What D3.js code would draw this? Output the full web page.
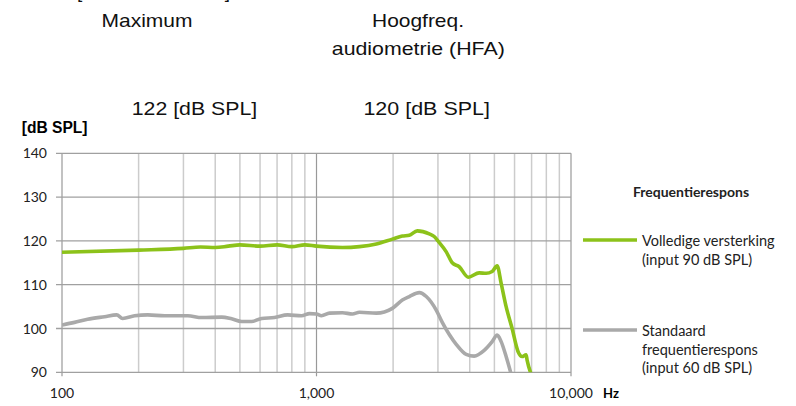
<!DOCTYPE html>
<html>
<head>
<meta charset="utf-8">
<script src="https://cdn.jsdelivr.net/npm/d3@7"></script>
<style>
  body { margin: 0; background: #fff; }
  svg { display: block; }
</style>
</head>
<body>
<div id="chart"></div>
<script>

// frequency response, full gain (input 90 dB SPL)
var fullFreq = [100, 200, 300, 350, 400, 450, 500, 600, 700, 800, 900, 1000, 1265, 1475, 1719, 1986, 2174, 2316, 2489, 2774, 2900, 3000, 3235, 3415, 3637, 3950, 4358, 4642, 4900, 5127, 5316, 5560, 5870, 6197, 6424, 6661, 6722, 6967];
var fullDb   = [117.4, 117.9, 118.3, 118.6, 118.5, 118.8, 119.1, 118.8, 119.1, 118.7, 119.1, 118.8, 118.5, 118.7, 119.3, 120.4, 121.1, 121.3, 122.3, 121.6, 121.0, 120.0, 117.5, 115.0, 114.1, 111.7, 112.7, 112.6, 113.0, 114.3, 110.3, 105.0, 100.0, 94.7, 93.6, 94.0, 92.8, 89.6];

// standard frequency response (input 60 dB SPL)
var stdFreq = [100, 112, 126, 147, 164, 173, 193, 217, 253, 312, 354, 424, 464, 508, 556, 609, 684, 770, 873, 939, 1000, 1046, 1125, 1265, 1384, 1475, 1719, 1986, 2174, 2316, 2535, 2700, 2954, 3120, 3540, 3874, 4165, 4559, 4900, 5127, 5316, 5560, 5817];
var stdDb   = [100.8, 101.4, 102.1, 102.7, 103.1, 102.3, 102.9, 103.1, 102.9, 102.9, 102.5, 102.6, 102.2, 101.6, 101.6, 102.3, 102.5, 103.1, 102.9, 103.4, 103.3, 102.9, 103.5, 103.6, 103.3, 103.7, 103.5, 104.6, 106.5, 107.3, 108.2, 107.3, 104.2, 101.4, 96.4, 94.1, 93.7, 95.0, 97.0, 98.5, 97.0, 93.6, 89.6];

var yTicks = [90, 100, 110, 120, 130, 140];
var xTicks = [100, 1000, 10000];
var minorTicks = [200, 300, 400, 500, 600, 700, 800, 900, 2000, 3000, 4000, 5000, 6000, 7000, 8000, 9000];

var legendItems = [
    { name: ["Volledige versterking", "(input 90 dB SPL)"], color: "#8cc21a" },
    { name: ["Standaard", "frequentierespons", "(input 60 dB SPL)"], color: "#a9a9a9" }
];

// header texts above the chart (text, centre x, baseline, width in the picture)
var headTexts = [
    ["Maximum", 147, 27.3, 91],
    ["Hoogfreq.", 418, 27.3, 92],
    ["audiometrie (HFA)", 418.3, 54.5, 173],
    ["122 [dB SPL]", 194.5, 115, 125.5],
    ["120 [dB SPL]", 426.7, 115, 126.5]
];

var w = 796, h = 406;
// note: "top" is taken by window.top, so plot edges get own names
var plotLeft = 62, plotRight = 571, plotTop = 153.3, plotBottom = 372.3;

var svg = d3.select("#chart").append("svg")
    .attr("width", w)
    .attr("height", h);

var x = d3.scaleLog().domain([100, 10000]).range([plotLeft, plotRight]);
var y = d3.scaleLinear().domain([90, 140]).range([plotBottom, plotTop]);

// header texts (the source font is a stretched Arial)
var head = svg.append("g")
    .attr("font-family", "'Liberation Sans', Arial, sans-serif")
    .attr("font-size", "19px")
    .attr("fill", "#111");
head.append("text").attr("x", 77).attr("y", -2).text("[");
head.append("text").attr("x", 230).attr("y", -2).attr("text-anchor", "end").text("]");
head.selectAll(".head")
    .data(headTexts)
    .enter()
    .append("text")
    .attr("x", function(d) { return d[1] - d[3] / 2; })
    .attr("y", function(d) { return d[2]; })
    .attr("textLength", function(d) { return d[3]; })
    .attr("lengthAdjust", "spacingAndGlyphs")
    .text(function(d) { return d[0]; });

svg.append("text")
    .attr("x", 21.7).attr("y", 133)
    .attr("font-family", "'Liberation Sans', Arial, sans-serif")
    .attr("font-size", "15.6px")
    .attr("font-weight", "bold")
    .text("[dB SPL]");

// vertical gridlines
svg.selectAll(".minor")
    .data(minorTicks)
    .enter()
    .append("line")
    .attr("x1", function(d) { return x(d); })
    .attr("x2", function(d) { return x(d); })
    .attr("y1", plotTop)
    .attr("y2", plotBottom)
    .attr("stroke", "#cccccc")
    .attr("stroke-width", 1.5);

svg.selectAll(".major")
    .data(xTicks)
    .enter()
    .append("line")
    .attr("x1", function(d) { return x(d); })
    .attr("x2", function(d) { return x(d); })
    .attr("y1", plotTop)
    .attr("y2", plotBottom + 4)
    .attr("stroke", "#999999")
    .attr("stroke-width", 1.2);

// horizontal gridlines
svg.selectAll(".hgrid")
    .data(yTicks)
    .enter()
    .append("line")
    .attr("x1", plotLeft - 6)
    .attr("x2", plotRight)
    .attr("y1", function(d) { return y(d); })
    .attr("y2", function(d) { return y(d); })
    .attr("stroke", "#a0a0a0")
    .attr("stroke-width", 1.3);

// tick labels
svg.selectAll(".ylab")
    .data(yTicks)
    .enter()
    .append("text")
    .attr("x", 47)
    .attr("y", function(d) { return y(d) + 5; })
    .attr("text-anchor", "end")
    .attr("font-family", "Lato, sans-serif")
    .attr("font-size", "14px")
    .attr("fill", "#222")
    .text(function(d) { return d; });

svg.selectAll(".xlab")
    .data(xTicks)
    .enter()
    .append("text")
    .attr("x", function(d) { return x(d); })
    .attr("y", 398)
    .attr("text-anchor", "middle")
    .attr("font-family", "Lato, sans-serif")
    .attr("font-size", "14px")
    .attr("fill", "#222")
    .text(d3.format(","));

svg.append("text")
    .attr("x", 603).attr("y", 398)
    .attr("font-family", "Lato, sans-serif")
    .attr("font-size", "13px")
    .attr("font-weight", "bold")
    .text("Hz");

// curves
svg.append("clipPath").attr("id", "plot")
    .append("rect")
    .attr("x", plotLeft).attr("y", plotTop)
    .attr("width", plotRight - plotLeft).attr("height", plotBottom - plotTop);

var line = d3.line()
    .x(function(d) { return x(d[0]); })
    .y(function(d) { return y(d[1]); })
    .curve(d3.curveMonotoneX);

var curves = [d3.zip(fullFreq, fullDb), d3.zip(stdFreq, stdDb)];

svg.selectAll(".curve")
    .data(curves)
    .enter()
    .append("path")
    .attr("d", line)
    .attr("clip-path", "url(#plot)")
    .attr("fill", "none")
    .attr("stroke", function(d, i) { return legendItems[i].color; })
    .attr("stroke-width", 3.6)
    .attr("stroke-linejoin", "round");

// legend
var legend = svg.append("g")
    .attr("font-family", "Lato, sans-serif")
    .attr("font-size", "14.5px")
    .attr("fill", "#222");

legend.append("text")
    .attr("x", 691).attr("y", 197)
    .attr("text-anchor", "middle")
    .attr("font-weight", "bold")
    .attr("font-size", "14px")
    .text("Frequentierespons");

var ly = [240, 330];
legendItems.forEach(function(item, i) {
    legend.append("line")
        .attr("x1", 583).attr("x2", 637)
        .attr("y1", ly[i]).attr("y2", ly[i])
        .attr("stroke", item.color)
        .attr("stroke-width", 3.6);
    item.name.forEach(function(t, j) {
        legend.append("text")
            .attr("x", 642)
            .attr("y", ly[i] + 6 + j * 18.5)
            .text(t);
    });
});

</script>
</body>
</html>
